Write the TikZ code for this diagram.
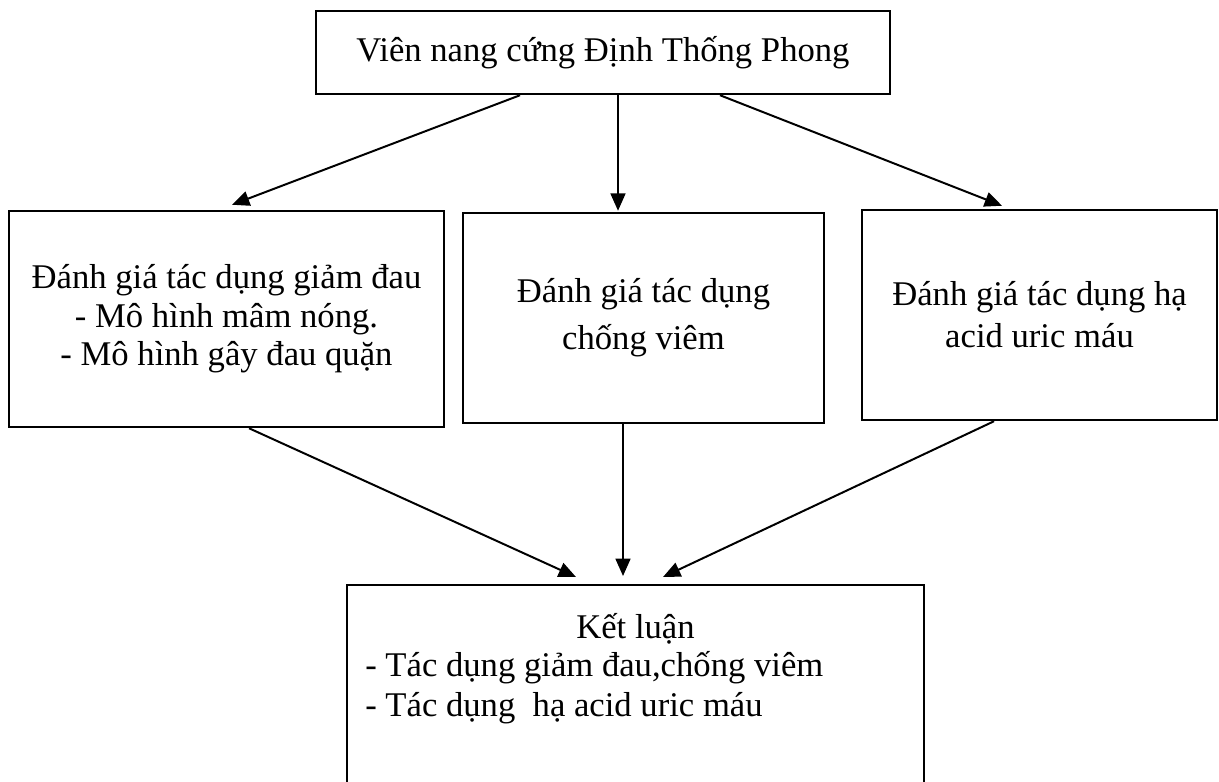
\documentclass[tikz,border=0pt]{standalone}
\usepackage{fontspec}
\setmainfont{Liberation Serif}
\usetikzlibrary{arrows.meta,calc}

% one pixel of the 1219 x 781 sheet
\newdimen\pxu
\pxu=0.404pt

\begin{document}
\begin{tikzpicture}[x=0.404pt, y=-0.404pt, >={Triangle[length=7pt,width=6pt]},
  box/.style={draw, line width=1pt, align=center, inner sep=0pt,
    font=\fontsize{14}{15.6}\selectfont},
  arr/.style={->, line width=0.8pt}]
  % sheet (y runs downwards)
  \clip (0,0) rectangle (1219,781);

  % top box
  \node[box, minimum width=574\pxu, minimum height=83\pxu] (caps) at (603,52.5)
    {Viên nang cứng Định Thống Phong};

  % three tests
  \node[box, minimum width=435\pxu, minimum height=216\pxu] (pain) at (226.5,319)
    {Đánh giá tác dụng giảm đau\\- Mô hình mâm nóng.\\- Mô hình gây đau quặn};
  \node[box, minimum width=361\pxu, minimum height=210\pxu,
    font=\fontsize{14}{19}\selectfont] (inflam) at (643.5,318)
    {Đánh giá tác dụng\\chống viêm};
  \node[box, minimum width=355\pxu, minimum height=210\pxu,
    font=\fontsize{14}{17}\selectfont] (uric) at (1039.5,315)
    {Đánh giá tác dụng hạ\\acid uric máu};

  % conclusion (runs off the bottom of the sheet)
  \node[box, anchor=north, minimum width=577\pxu, minimum height=230\pxu] (concl)
    at (635.5,584) {};
  \node[font=\fontsize{14}{16}\selectfont] (kltitle) at ($(concl.north)+(0,45)$) {Kết luận};
  \node[anchor=west, align=left, inner sep=0pt, font=\fontsize{14}{16.2}\selectfont]
    (klitems) at ($(concl.north west)+(19,104)$)
    {- Tác dụng giảm đau,chống viêm\\- Tác dụng\ \ hạ acid uric máu};

  % arrows down from the top box
  \draw[arr] ($(caps.south)+(-83,0)$) -- ($(pain.north)+(5.5,-5)$);
  \draw[arr] ($(caps.south)+(15,0)$) -- ($(inflam.north)+(-25.5,-1)$);
  \draw[arr] ($(caps.south)+(117,0)$) -- ($(uric.north)+(-37.5,-3)$);

  % arrows into the conclusion
  \draw[arr] ($(pain.south)+(22.5,0)$) -- ($(concl.north)+(-59.5,-7)$);
  \draw[arr] ($(inflam.south)+(-20.5,0)$) -- ($(concl.north)+(-12.5,-8)$);
  \draw[arr] ($(uric.south)+(-45.5,0)$) -- ($(concl.north)+(27.5,-7)$);
\end{tikzpicture}
\end{document}
